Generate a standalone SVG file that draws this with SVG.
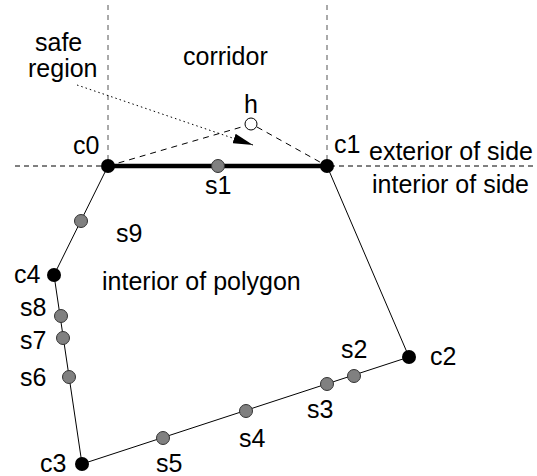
<svg xmlns="http://www.w3.org/2000/svg" width="537" height="476" viewBox="0 0 537 476">
<defs>
<style>
text{font-family:"Liberation Sans",Arial,sans-serif;font-size:25px;fill:#000}
.corner{fill:#000}
.side{fill:#808080;stroke:#333;stroke-width:1}
.edge{stroke:#000;stroke-width:1;fill:none}
.vguide{stroke:#555;stroke-width:1;stroke-dasharray:5,5;fill:none}
.hguide{stroke:#000;stroke-width:1;stroke-dasharray:5,4;fill:none}
.hdash{stroke:#000;stroke-width:1;stroke-dasharray:6,5;fill:none}
.dot{stroke:#000;stroke-width:1;stroke-dasharray:1.5,3;fill:none}
</style>
<marker id="arr" viewBox="0 0 20 10" refX="20" refY="5" markerWidth="20" markerHeight="10" markerUnits="userSpaceOnUse" orient="auto">
<path d="M0,0 L20,5 L0,10 z" fill="#000"/>
</marker>
</defs>
<rect width="537" height="476" fill="#fff"/>
<g id="connectors">
<line class="vguide" x1="108" y1="5" x2="108" y2="166"/>
<line class="vguide" x1="327" y1="5" x2="327" y2="166"/>
<line class="hguide" x1="15" y1="166" x2="537" y2="166"/>
<line class="hdash" x1="108" y1="166" x2="245" y2="126"/>
<line class="hdash" x1="257" y1="127" x2="327" y2="166"/>
<line class="dot" x1="77" y1="85" x2="253" y2="145" marker-end="url(#arr)"/>
<line x1="108" y1="166" x2="327" y2="166" stroke="#000" stroke-width="4.5"/>
<polyline class="edge" points="327,166 409,357 82,464 54,275 108,166"/>
</g>
<g id="labels">
<text x="35" y="51">safe</text>
<text x="28" y="77">region</text>
<text x="183" y="65">corridor</text>
<text x="369" y="160">exterior of side</text>
<text x="372" y="193">interior of side</text>
<text x="102" y="290">interior of polygon</text>
</g>
<g id="h"><circle cx="251" cy="124" r="6" fill="#fff" stroke="#000" stroke-width="1"/><text x="244" y="113">h</text></g>
<g id="c0"><circle class="corner" cx="108" cy="166" r="7"/><text x="73" y="154">c0</text></g>
<g id="c1"><circle class="corner" cx="327" cy="166" r="7"/><text x="334" y="153">c1</text></g>
<g id="c2"><circle class="corner" cx="409" cy="357" r="7"/><text x="430" y="365">c2</text></g>
<g id="c3"><circle class="corner" cx="82" cy="464" r="7"/><text x="40" y="472">c3</text></g>
<g id="c4"><circle class="corner" cx="54" cy="275" r="7"/><text x="14" y="283">c4</text></g>
<g id="s1"><circle class="side" cx="218" cy="166" r="6.5"/><text x="205" y="194">s1</text></g>
<g id="s2"><circle class="side" cx="354" cy="376" r="6.5"/><text x="341" y="358">s2</text></g>
<g id="s3"><circle class="side" cx="327" cy="384" r="6.5"/><text x="307" y="418">s3</text></g>
<g id="s4"><circle class="side" cx="246" cy="411" r="6.5"/><text x="239" y="447">s4</text></g>
<g id="s5"><circle class="side" cx="163" cy="438" r="6.5"/><text x="156" y="472">s5</text></g>
<g id="s6"><circle class="side" cx="69" cy="377" r="6.5"/><text x="20" y="386">s6</text></g>
<g id="s7"><circle class="side" cx="63" cy="338" r="6.5"/><text x="20" y="349">s7</text></g>
<g id="s8"><circle class="side" cx="61" cy="316" r="6.5"/><text x="20" y="316">s8</text></g>
<g id="s9"><circle class="side" cx="81" cy="221" r="6.5"/><text x="116" y="242">s9</text></g>
</svg>
